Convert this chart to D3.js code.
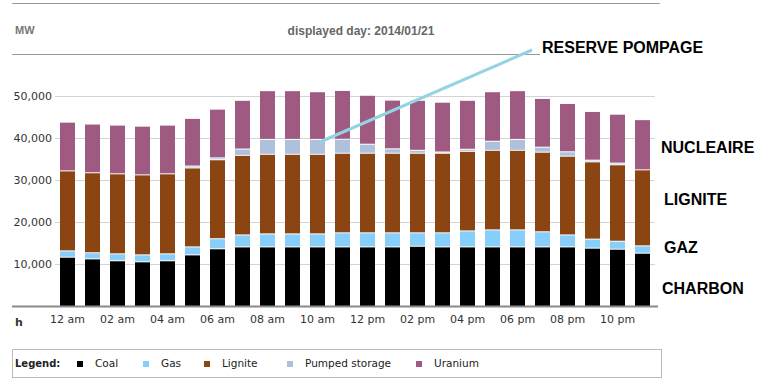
<!DOCTYPE html>
<html><head><meta charset="utf-8">
<script src="https://cdn.jsdelivr.net/npm/d3@7"></script>
<style>body{margin:0;background:#fff}svg{display:block}</style>
</head><body>
<script>
const hours = ["12 am","01 am","02 am","03 am","04 am","05 am","06 am","07 am","08 am","09 am","10 am","11 am","12 pm","01 pm","02 pm","03 pm","04 pm","05 pm","06 pm","07 pm","08 pm","09 pm","10 pm","11 pm"];
const coal    = [11500,11100,10650,10400,10650,12050,13500,13950,13950,13950,13950,13950,13950,13950,14100,13950,13950,13950,13950,13950,13950,13650,13400,12450];
const gas     = [1500,1450,1650,1650,1650,1900,2400,2850,3100,3100,3100,3350,3350,3350,3200,3350,3800,4050,4050,3600,2850,2150,1900,1750];
const lignite = [19050,19050,19050,19050,19050,18800,18800,18950,18950,18950,18950,18950,18950,18950,18950,18950,18950,18950,18950,18950,18750,18400,18200,18100];
const pumped  = [0,0,0,0,0,450,450,1500,3550,3550,3550,3350,2150,1050,700,300,500,2150,2600,1200,1050,400,400,0];
const uranium = [11600,11600,11600,11600,11600,11350,11600,11600,11600,11600,11350,11600,11650,11600,11900,11850,11650,11800,11600,11600,11500,11600,11650,11950];
const yTicks = [10000,20000,30000,40000,50000];
const seriesNames = ["Coal","Gas","Lignite","Pumped storage","Uranium"];
const seriesColors = ["#000000","#87cefa","#8b4513","#adc1dd","#9e5a80"];
const annotations = ["RESERVE POMPAGE","NUCLEAIRE","LIGNITE","GAZ","CHARBON"];

const W=768,H=382;
const svg=d3.select("body").append("svg").attr("width",W).attr("height",H);
const x=d3.scaleBand().domain(hours).range([55,655]).paddingInner(0.4).paddingOuter(0.2);
const y=d3.scaleLinear().domain([0,60000]).range([306,54]);

const rows=hours.map((h,i)=>({hour:h,Coal:coal[i],Gas:gas[i],Lignite:lignite[i],"Pumped storage":pumped[i],Uranium:uranium[i]}));
const stack=d3.stack().keys(seriesNames)(rows);

// frame lines
svg.append("line").attr("x1",12).attr("x2",660).attr("y1",3.5).attr("y2",3.5).attr("stroke","#999");
svg.append("line").attr("x1",12).attr("x2",540).attr("y1",54.5).attr("y2",54.5).attr("stroke","#999");
svg.append("text").attr("x",15).attr("y",34).text("MW").attr("font-family","Liberation Sans, Arial").attr("font-weight","bold").attr("font-size",11).attr("fill","#777");
svg.append("text").attr("x",361).attr("y",35).attr("text-anchor","middle").text("displayed day: 2014/01/21").attr("font-family","Liberation Sans, Arial").attr("font-weight","bold").attr("font-size",12).attr("fill","#666");

// grid
const g=svg.append("g");
g.selectAll(".grid").data(yTicks).join("line").attr("x1",55).attr("x2",655)
 .attr("y1",d=>Math.round(y(d))+0.5).attr("y2",d=>Math.round(y(d))+0.5).attr("stroke","#d4d4d4");
const yAxis=svg.append("g").attr("transform","translate(52,0)")
 .call(d3.axisLeft(y).tickValues(yTicks).tickSize(0).tickPadding(0).tickFormat(d3.format(",")));
yAxis.select(".domain").remove();
yAxis.selectAll("text").attr("font-family","DejaVu Sans, Verdana").attr("font-size",11).attr("fill","#333");

// bars
svg.append("g").selectAll("g").data(stack).join("g").attr("fill",(d,i)=>seriesColors[i])
 .selectAll("rect").data(d=>d.filter(p=>p[1]>p[0]).map(p=>({p,k:d.index}))).join("rect")
 .attr("x",d=>x(d.p.data.hour)).attr("width",x.bandwidth())
 .attr("y",d=>y(d.p[1]))
 .attr("height",d=>Math.max(0,y(d.p[0])-y(d.p[1])-(d.k>0?1:0)));

// x axis
svg.append("line").attr("x1",12).attr("x2",658).attr("y1",306.5).attr("y2",306.5).attr("stroke","#8a8a8a").attr("stroke-width",2);
const xAxis=svg.append("g").attr("transform","translate(0,311)")
 .call(d3.axisBottom(x).tickValues(hours.filter((h,i)=>i%2===0)).tickSize(0).tickPadding(4));
xAxis.select(".domain").remove();
xAxis.selectAll("text").attr("font-family","DejaVu Sans, Verdana").attr("font-size",11).attr("fill","#333");
svg.append("text").attr("x",15).attr("y",326).text("h").attr("font-family","DejaVu Sans, Verdana").attr("font-weight","bold").attr("font-size",11).attr("fill","#333");

// legend
svg.append("rect").attr("x",12.5).attr("y",349.5).attr("width",649).attr("height",28).attr("fill","none").attr("stroke","#bbb");
svg.append("text").attr("x",15).attr("y",367).text("Legend:").attr("font-family","DejaVu Sans, Verdana").attr("font-weight","bold").attr("font-size",10).attr("fill","#222");
const legX=[77,143,204,287,416];
seriesNames.forEach((n,i)=>{
  svg.append("rect").attr("x",legX[i]).attr("y",361).attr("width",6).attr("height",6).attr("fill",seriesColors[i]);
  svg.append("text").attr("x",legX[i]+18).attr("y",367).text(n).attr("font-family","DejaVu Sans, Verdana").attr("font-size",10.5).attr("fill","#222");
});

// annotations
svg.append("line").attr("x1",320).attr("y1",142).attr("x2",532).attr("y2",50).attr("stroke","#93d3e3").attr("stroke-width",3);
const annPos=[[542,53],[661,153],[664,205],[664,253],[662,294]];
annotations.forEach((t,i)=>{
  svg.append("text").attr("x",annPos[i][0]).attr("y",annPos[i][1]).text(t)
   .attr("font-family","Liberation Sans, Arial").attr("font-weight","bold").attr("font-size",16).attr("fill","#000");
});
</script>
</body></html>
